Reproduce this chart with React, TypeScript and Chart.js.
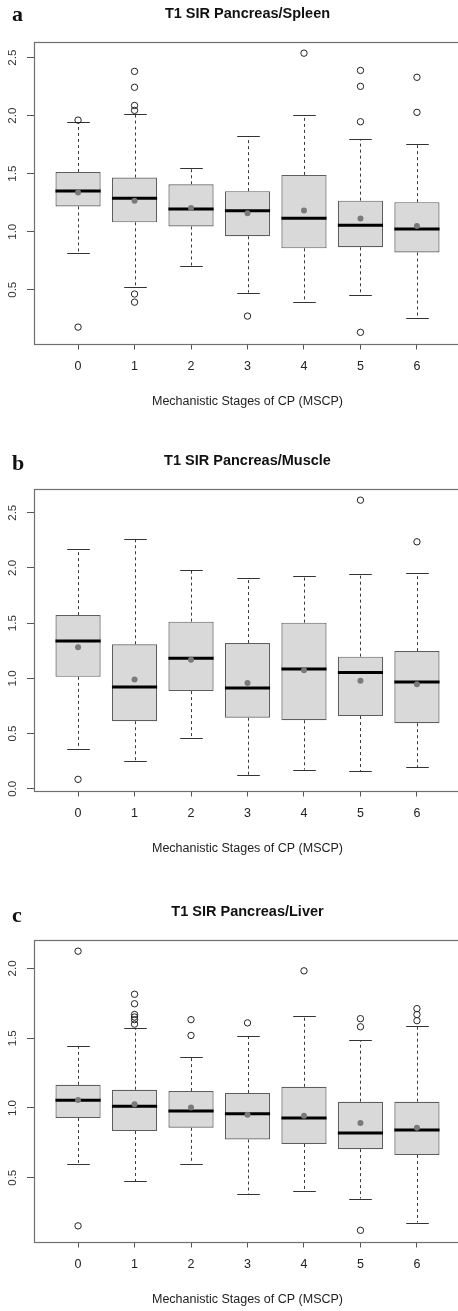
import React, { useEffect, useRef } from "react";
import { Chart, registerables } from "chart.js";

Chart.register(...registerables);
Chart.defaults.font.family = '"Liberation Sans", Arial, Helvetica, sans-serif';

// ---- shared categories ----
const stages = [0, 1, 2, 3, 4, 5, 6];
const stageLabels = ["0", "1", "2", "3", "4", "5", "6"];
const xAxisTitle = "Mechanistic Stages of CP (MSCP)";

// ---- panel a: Pancreas/Spleen ----
const spleenLow = [0.821, 0.528, 0.706, 0.475, 0.391, 0.458, 0.253];
const spleenQ1 = [1.218, 1.081, 1.045, 0.961, 0.857, 0.866, 0.821];
const spleenMedian = [1.352, 1.289, 1.196, 1.18, 1.117, 1.056, 1.023];
const spleenQ3 = [1.515, 1.467, 1.409, 1.35, 1.49, 1.268, 1.255];
const spleenHigh = [1.943, 2.015, 1.549, 1.825, 2.002, 1.797, 1.758];
const spleenMean = [1.339, 1.268, 1.205, 1.16, 1.182, 1.115, 1.05];
const spleenOutliers = [
  [1.962, 0.178],
  [2.382, 2.245, 2.088, 2.046, 0.463, 0.393],
  [],
  [0.273],
  [2.539],
  [2.39, 2.253, 1.948, 0.133],
  [2.331, 2.029],
];
const spleenTicks = [0.5, 1.0, 1.5, 2.0, 2.5];

// ---- panel b: Pancreas/Muscle ----
const muscleLow = [0.365, 0.256, 0.459, 0.127, 0.174, 0.159, 0.197];
const muscleQ1 = [1.014, 0.612, 0.885, 0.644, 0.621, 0.659, 0.594];
const muscleMedian = [1.338, 0.923, 1.182, 0.914, 1.085, 1.053, 0.967];
const muscleQ3 = [1.573, 1.309, 1.514, 1.32, 1.505, 1.197, 1.247];
const muscleHigh = [2.169, 2.258, 1.984, 1.911, 1.929, 1.946, 1.955];
const muscleMean = [1.282, 0.991, 1.168, 0.959, 1.073, 0.979, 0.947];
const muscleOutliers = [[0.086], [], [], [], [], [2.614], [2.237]];
const muscleTicks = [0.0, 0.5, 1.0, 1.5, 2.0, 2.5];

// ---- panel c: Pancreas/Liver ----
const liverLow = [0.602, 0.476, 0.6, 0.383, 0.402, 0.351, 0.179];
const liverQ1 = [0.928, 0.835, 0.858, 0.774, 0.742, 0.705, 0.663];
const liverMedian = [1.056, 1.012, 0.979, 0.958, 0.928, 0.821, 0.842];
const liverQ3 = [1.166, 1.131, 1.121, 1.107, 1.152, 1.045, 1.045];
const liverHigh = [1.445, 1.571, 1.363, 1.513, 1.657, 1.487, 1.589];
const liverMean = [1.058, 1.026, 1.003, 0.951, 0.944, 0.893, 0.858];
const liverOutliers = [
  [2.124, 0.155],
  [1.815, 1.747, 1.67, 1.652, 1.633, 1.601],
  [1.633, 1.52],
  [1.61],
  [1.983],
  [1.64, 1.582, 0.123],
  [1.712, 1.67, 1.626],
];
const liverTicks = [0.5, 1.0, 1.5, 2.0];

type PanelData = {
  low: number[];
  q1: number[];
  median: number[];
  q3: number[];
  high: number[];
  mean: number[];
  outliers: number[][];
  ticks: number[];
};

const CANVAS_W = 466;
const CANVAS_H = 413;

function makeBoxPlugin(d: PanelData) {
  return {
    id: "boxWhiskers",
    beforeDatasetsDraw(chart: any) {
      const meta = chart.getDatasetMeta(0);
      const y = chart.scales.y;
      const ctx = chart.ctx;
      ctx.save();
      meta.data.forEach((bar: any, i: number) => {
        const x = Math.round(bar.x) + 0.5;
        const w = bar.width;
        ctx.strokeStyle = "#3a3a3a";
        ctx.lineWidth = 1;
        ctx.setLineDash([3, 3]);
        ctx.beginPath();
        ctx.moveTo(x, y.getPixelForValue(d.q3[i]));
        ctx.lineTo(x, y.getPixelForValue(d.high[i]));
        ctx.moveTo(x, y.getPixelForValue(d.q1[i]));
        ctx.lineTo(x, y.getPixelForValue(d.low[i]));
        ctx.stroke();
        ctx.setLineDash([]);
        ctx.strokeStyle = "#333";
        ctx.beginPath();
        const hy = Math.round(y.getPixelForValue(d.high[i])) + 0.5;
        const ly = Math.round(y.getPixelForValue(d.low[i])) + 0.5;
        ctx.moveTo(x - w / 4, hy);
        ctx.lineTo(x + w / 4, hy);
        ctx.moveTo(x - w / 4, ly);
        ctx.lineTo(x + w / 4, ly);
        ctx.stroke();
      });
      ctx.restore();
    },
    afterDatasetDraw(chart: any, args: any) {
      if (args.index !== 0) return;
      const meta = chart.getDatasetMeta(0);
      const y = chart.scales.y;
      const ctx = chart.ctx;
      ctx.save();
      ctx.strokeStyle = "#000";
      ctx.lineWidth = 3;
      ctx.beginPath();
      meta.data.forEach((bar: any, i: number) => {
        const my = y.getPixelForValue(d.median[i]);
        ctx.moveTo(bar.x - bar.width / 2, my);
        ctx.lineTo(bar.x + bar.width / 2, my);
      });
      ctx.stroke();
      ctx.restore();
    },
    afterDraw(chart: any) {
      const { left, top, right, bottom } = chart.chartArea;
      const ctx = chart.ctx;
      ctx.save();
      ctx.strokeStyle = "#6f6f6f";
      ctx.lineWidth = 1.2;
      ctx.strokeRect(Math.round(left) + 0.5, Math.round(top) + 0.5, right - left, Math.round(bottom) - Math.round(top));
      ctx.restore();
    },
  };
}

function Panel(props: { title: string; letter: string; top: number; letterTop: number; d: PanelData }) {
  const { title, letter, top, letterTop, d } = props;
  const ref = useRef<HTMLCanvasElement>(null);

  useEffect(() => {
    const all = [...d.low, ...d.high, ...d.outliers.flat()];
    const lo = Math.min(...all);
    const hi = Math.max(...all);
    const pad = (hi - lo) * 0.04;
    const xMin = stages[0] - 0.5 - stages.length * 0.04;
    const xMax = stages[stages.length - 1] + 0.5 + stages.length * 0.04;

    const outlierPoints: { x: number; y: number }[] = [];
    d.outliers.forEach((arr, i) => arr.forEach((v) => outlierPoints.push({ x: stages[i], y: v })));

    const chart = new Chart(ref.current as HTMLCanvasElement, {
      type: "bar",
      data: {
        datasets: [
          {
            type: "bar",
            data: stages.map((s, i) => ({ x: s, y: [d.q1[i], d.q3[i]] })) as any,
            backgroundColor: "#d9d9d9",
            borderColor: "#5e5e5e",
            borderWidth: 1.2,
            borderSkipped: false,
            barPercentage: 0.8,
            categoryPercentage: 1,
            order: 3,
          } as any,
          {
            type: "scatter",
            data: stages.map((s, i) => ({ x: s, y: d.mean[i] })),
            pointRadius: 3,
            pointBackgroundColor: "#7a7a7a",
            pointBorderWidth: 0,
            order: 1,
          } as any,
          {
            type: "scatter",
            data: outlierPoints,
            pointRadius: 3.2,
            pointBackgroundColor: "rgba(255,255,255,0)",
            pointBorderColor: "#222",
            pointBorderWidth: 1,
            order: 0,
          } as any,
        ],
      },
      options: {
        responsive: false,
        animation: false,
        events: [],
        devicePixelRatio: 1,
        layout: { padding: { left: 0, right: 1.5, top: 0, bottom: 3.5 } },
        plugins: {
          legend: { display: false },
          tooltip: { enabled: false },
          title: {
            display: true,
            text: title,
            fullSize: false,
            color: "#111",
            font: { size: 14.5, weight: "bold" },
            padding: { top: 4.8, bottom: 19.8 },
          },
        },
        scales: {
          x: {
            type: "linear",
            offset: false,
            min: xMin,
            max: xMax,
            afterBuildTicks: (s: any) => {
              s.ticks = stages.map((v) => ({ value: v }));
            },
            ticks: {
              padding: 9.5,
              color: "#222",
              font: { size: 12.5 },
              callback: (_v: any, idx: number) => stageLabels[idx],
            },
            grid: { offset: false, drawOnChartArea: false, drawTicks: true, tickLength: 6, color: "#555" },
            border: { display: false },
            title: {
              display: true,
              text: xAxisTitle,
              color: "#222",
              font: { size: 12.5 },
              padding: { top: 11, bottom: 0 },
            },
          },
          y: {
            type: "linear",
            min: lo - pad,
            max: hi + pad,
            afterBuildTicks: (s: any) => {
              s.ticks = d.ticks.map((v) => ({ value: v }));
            },
            afterFit: (s: any) => {
              s.width = 34;
            },
            ticks: {
              minRotation: 90,
              maxRotation: 90,
              crossAlign: "center",
              padding: 6,
              color: "#333",
              font: { size: 11.5 },
              callback: (v: any) => Number(v).toFixed(1),
            },
            grid: { drawOnChartArea: false, drawTicks: true, tickLength: 7, color: "#555" },
            border: { display: false },
          },
        },
      } as any,
      plugins: [makeBoxPlugin(d)],
    });
    return () => chart.destroy();
  }, []);

  return (
    <div style={{ position: "absolute", left: 0, top, width: 458, height: CANVAS_H, overflow: "hidden" }}>
      <canvas ref={ref} width={CANVAS_W} height={CANVAS_H} style={{ display: "block", width: CANVAS_W, height: CANVAS_H }} />
      <div
        style={{
          position: "absolute",
          left: 12,
          top: letterTop,
          font: 'bold 22px "Liberation Serif", "Times New Roman", serif',
          lineHeight: "22px",
          color: "#111",
        }}
      >
        {letter}
      </div>
    </div>
  );
}

export default function App() {
  const spleen: PanelData = {
    low: spleenLow, q1: spleenQ1, median: spleenMedian, q3: spleenQ3, high: spleenHigh,
    mean: spleenMean, outliers: spleenOutliers, ticks: spleenTicks,
  };
  const muscle: PanelData = {
    low: muscleLow, q1: muscleQ1, median: muscleMedian, q3: muscleQ3, high: muscleHigh,
    mean: muscleMean, outliers: muscleOutliers, ticks: muscleTicks,
  };
  const liver: PanelData = {
    low: liverLow, q1: liverQ1, median: liverMedian, q3: liverQ3, high: liverHigh,
    mean: liverMean, outliers: liverOutliers, ticks: liverTicks,
  };
  return (
    <div style={{ position: "absolute", left: 0, top: 0, width: 458, height: 1311, overflow: "hidden", background: "#fff" }}>
      <Panel title="T1 SIR Pancreas/Spleen" letter="a" top={0} letterTop={2.6} d={spleen} />
      <Panel title="T1 SIR Pancreas/Muscle" letter="b" top={447} letterTop={4.6} d={muscle} />
      <Panel title="T1 SIR Pancreas/Liver" letter="c" top={898} letterTop={5.6} d={liver} />
    </div>
  );
}
